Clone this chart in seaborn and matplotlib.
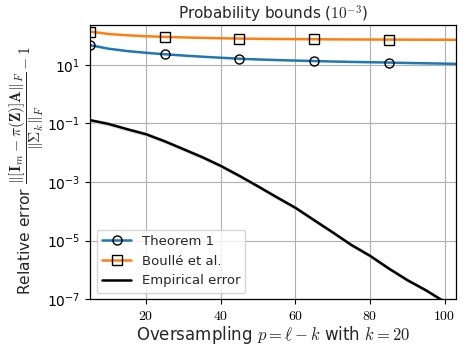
import numpy as np
import pandas as pd
import matplotlib
matplotlib.use("Agg")
import matplotlib.pyplot as plt
import matplotlib.ticker as mticker
import seaborn as sns

# ---- data ----
p = [5, 10, 15, 20, 25, 30, 35, 40, 45, 50, 55, 60, 65, 70, 75, 80, 85, 90, 95, 100, 103]
theorem1 = [47, 35.5, 29.5, 25.8, 23.0, 20.8, 19.0, 17.5, 16.2, 15.3, 14.6, 14.0, 13.5, 13.0,
            12.6, 12.3, 12.0, 11.6, 11.3, 11.0, 10.8]
boulle = [137, 113, 102, 95, 90, 86.5, 83.5, 81, 79, 77.5, 76.5, 75.5, 75, 74.3, 73.8,
          73.3, 73, 72.6, 72.3, 72, 71.8]
empirical = [1.29e-1, 9.55e-2, 6.31e-2, 4.27e-2, 2.45e-2, 1.32e-2, 7.08e-3, 3.55e-3,
             1.62e-3, 7.08e-4, 3.02e-4, 1.32e-4, 5.0e-5, 1.91e-5, 7.08e-6, 3.02e-6,
             1.12e-6, 4.47e-7, 2.0e-7, 8.1e-8, 4.47e-8]
x_ticks = [20, 40, 60, 80, 100]
y_ticks = [1e-7, 1e-5, 1e-3, 1e-1, 1e1]

sns.set_theme(style="ticks")
plt.rcParams["font.family"] = ["DejaVu Sans"]
plt.rcParams["mathtext.fontset"] = "cm"

df = pd.DataFrame({"p": p, "thm": theorem1, "boulle": boulle, "emp": empirical})

fig = plt.figure(figsize=(4.67, 3.47), dpi=100)
ax = fig.add_axes([0.193, 0.138, 0.783, 0.79])

marks = [0, 4, 8, 12, 16]
sns.lineplot(data=df, x="p", y="thm", ax=ax, color="#1f77b4", lw=1.8,
             marker="o", markevery=marks, markersize=6.5, markerfacecolor="none",
             markeredgecolor="black", markeredgewidth=1.0, label="Theorem 1")
sns.lineplot(data=df, x="p", y="boulle", ax=ax, color="#ff7f0e", lw=1.8,
             marker="s", markevery=marks, markersize=6.5, markerfacecolor="none",
             markeredgecolor="black", markeredgewidth=1.0, label="Boullé et al.")
emp = np.array(empirical)
ax.fill_between(p, emp * 0.85, emp * 1.18, color="0.87", lw=0, zorder=1)
sns.lineplot(data=df, x="p", y="emp", ax=ax, color="black", lw=1.8,
             label="Empirical error")

ax.set_yscale("log")
ax.set_xlim(5, 103)
ax.set_ylim(1e-7, 2.3e2)
ax.set_xticks(x_ticks)
ax.xaxis.set_major_formatter(mticker.FuncFormatter(lambda v, _: f"${v:g}$"))
ax.set_yticks(y_ticks)
ax.yaxis.set_minor_locator(mticker.NullLocator())
ax.tick_params(labelsize=10, length=3.5, width=0.8, colors="black")
ax.grid(True, color="#b0b0b0", lw=0.8)
for s in ax.spines.values():
    s.set_color("black")
    s.set_linewidth(0.9)

ax.set_title(r"Probability bounds ($10^{-3}$)", fontsize=11, pad=3)
ax.set_xlabel(r"Oversampling $p = \ell - k$ with $k = 20$", fontsize=12, labelpad=1)
ax.set_ylabel(r"Relative error $\dfrac{\|[\mathbf{I}_m - \pi(\mathbf{Z})]\mathbf{A}\|_F}"
              r"{\|\mathbf{\Sigma}_k\|_F} - 1$", fontsize=11.2)
ax.yaxis.set_label_coords(-0.12, 0.47)

leg = ax.legend(loc="lower left", fontsize=9.5, frameon=True, fancybox=True,
                framealpha=0.8, edgecolor="0.8", handlelength=2.2,
                borderaxespad=0.5)

fig.savefig("out.png", dpi=100)
